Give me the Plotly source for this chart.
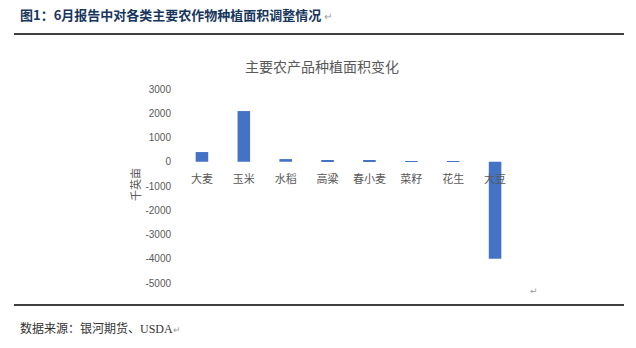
import plotly.graph_objects as go

# Crop acreage revisions in the June report (thousand acres)
crops = ["大麦", "玉米", "水稻", "高粱", "春小麦", "菜籽", "花生", "大豆"]
changes = [400, 2090, 110, 70, 60, -10, 30, -4000]
y_ticks = [3000, 2000, 1000, 0, -1000, -2000, -3000, -4000, -5000]

Y_MIN, Y_MAX = -5000, 3000
zero_pos = (0 - Y_MIN) / (Y_MAX - Y_MIN)

GRAY = "#595959"
CJK = "Noto Sans CJK SC"

fig = go.Figure(
    go.Bar(
        x=crops,
        y=changes,
        marker=dict(color="#4472C4", line=dict(width=0)),
        width=0.3,
    )
)

fig.update_layout(
    width=636,
    height=348,
    margin=dict(l=181, r=120, t=89, b=65),
    paper_bgcolor="white",
    plot_bgcolor="white",
    showlegend=False,
    xaxis=dict(
        anchor="free",
        position=zero_pos,
        showline=False,
        showgrid=False,
        ticks="",
        ticklabelstandoff=9,
        tickfont=dict(family=CJK, size=11, color=GRAY),
        fixedrange=True,
    ),
    yaxis=dict(
        range=[Y_MIN, Y_MAX],
        tickvals=y_ticks,
        ticktext=[str(v) for v in y_ticks],
        showgrid=False,
        zeroline=False,
        showline=False,
        ticks="",
        ticklabelstandoff=9,
        tickfont=dict(family="Liberation Sans", size=10, color=GRAY),
        fixedrange=True,
    ),
)

# Page header, rules and footnote drawn in pixel-aligned paper space
W, H = 636, 348
L, R, T, B = 181, 120, 89, 65
pw, ph = W - L - R, H - T - B


def px(x):
    return (x - L) / pw


def py(y):
    return (H - B - y) / ph


fig.add_shape(type="line", xref="paper", yref="paper",
              x0=px(14), x1=px(624), y0=py(34), y1=py(34),
              line=dict(color="black", width=1.3))
fig.add_shape(type="line", xref="paper", yref="paper",
              x0=px(14), x1=px(624), y0=py(305), y1=py(305),
              line=dict(color="black", width=1.3))

fig.add_annotation(
    xref="paper", yref="paper", x=px(18), y=py(14),
    xanchor="left", yanchor="middle", showarrow=False,
    text="<b>图1：6月报告中对各类主要农作物种植面积调整情况</b> <span style='color:#9a9a9a;font-size:10px'>↵</span>",
    font=dict(family=CJK, size=13, color="#17365d"),
)
fig.add_annotation(
    xref="paper", yref="paper", x=px(322), y=py(66),
    xanchor="center", yanchor="middle", showarrow=False,
    text="主要农产品种植面积变化",
    font=dict(family=CJK, size=14, color=GRAY),
)
fig.add_annotation(
    xref="paper", yref="paper", x=px(135), y=py(185),
    xanchor="center", yanchor="middle", showarrow=False, textangle=-90,
    text="千英亩",
    font=dict(family=CJK, size=11, color=GRAY),
)
fig.add_annotation(
    xref="paper", yref="paper", x=px(534), y=py(291),
    xanchor="center", yanchor="middle", showarrow=False,
    text="↵", font=dict(family="DejaVu Sans", size=9, color="#9a9a9a"),
)
fig.add_annotation(
    xref="paper", yref="paper", x=px(18), y=py(327),
    xanchor="left", yanchor="middle", showarrow=False,
    text="数据来源：银河期货、<span style='font-family:Liberation Serif'>USDA</span><span style='color:#9a9a9a;font-size:9px'>↵</span>",
    font=dict(family=CJK, size=12, color="#333333"),
)

fig.write_html("out.html", config={"displayModeBar": False})
